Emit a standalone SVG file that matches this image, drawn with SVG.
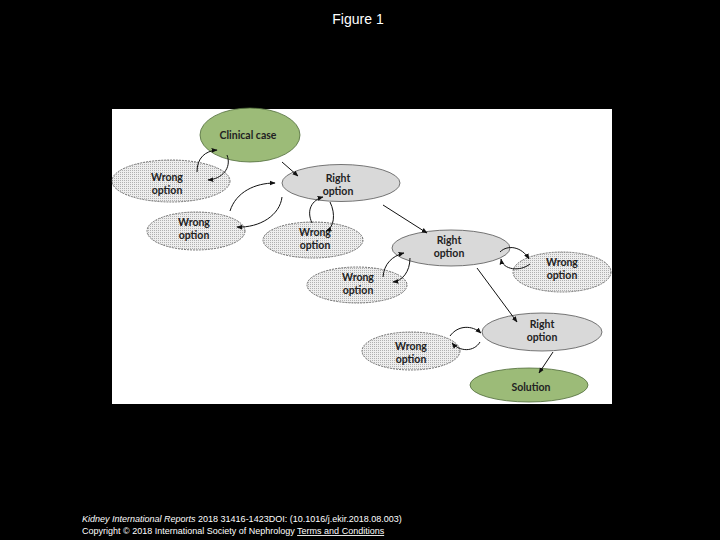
<svg xmlns="http://www.w3.org/2000/svg" width="720" height="540" viewBox="0 0 720 540">
<style>
.t{font-family:Lato,"Open Sans","Liberation Sans",sans-serif;font-size:10.5px;font-weight:bold;fill:#222;text-anchor:middle}
.g{fill:#9cbb78;stroke:#4f6b3a;stroke-width:0.8}
.r{fill:#d9d9d9;stroke:#555;stroke-width:0.8}
.w{fill:url(#dots);stroke:#555;stroke-width:0.8;stroke-dasharray:2 1}
.c{fill:none;stroke:#111;stroke-width:1;marker-end:url(#ah)}
.f{font-family:"Liberation Sans",Arial,sans-serif;font-size:9px;fill:#fff}
</style>
<defs>
<pattern id="dots" width="2" height="2" patternUnits="userSpaceOnUse">
<rect width="2" height="2" fill="#eeeeee"/>
<rect width="1" height="1" fill="#b0b0b0"/>
</pattern>
<marker id="ah" viewBox="0 0 10 10" refX="9" refY="5" markerWidth="6" markerHeight="6" orient="auto-start-reverse" markerUnits="userSpaceOnUse">
<path d="M0,1 L10,5 L0,9 Z" fill="#111"/>
</marker>
</defs>
<rect width="720" height="540" fill="#000"/>
<text x="358" y="24" font-family="Liberation Sans,Arial,sans-serif" font-size="14" fill="#fff" text-anchor="middle">Figure 1</text>
<rect x="112" y="109" width="500" height="295" fill="#fff"/>

<g id="clinical-case"><ellipse class="g" cx="250" cy="135" rx="50" ry="27"/><text class="t" x="248" y="139">Clinical case</text></g>
<g id="wrong-1"><ellipse class="w" cx="171" cy="181" rx="59" ry="21"/><text class="t" x="167" y="181">Wrong</text><text class="t" x="167" y="194">option</text></g>
<g id="right-1"><ellipse class="r" cx="341" cy="183" rx="59" ry="18.5"/><text class="t" x="338" y="182">Right</text><text class="t" x="338" y="195">option</text></g>
<g id="wrong-2"><ellipse class="w" cx="196" cy="231" rx="49" ry="19"/><text class="t" x="194" y="226">Wrong</text><text class="t" x="194" y="239">option</text></g>
<g id="wrong-3"><ellipse class="w" cx="313" cy="240" rx="50" ry="18"/><text class="t" x="315" y="236">Wrong</text><text class="t" x="315" y="249">option</text></g>
<g id="right-2"><ellipse class="r" cx="451" cy="248" rx="59" ry="18"/><text class="t" x="449" y="244" font-weight="600">Right</text><text class="t" x="449" y="257" font-weight="600">option</text></g>
<g id="wrong-4"><ellipse class="w" cx="357" cy="285" rx="50" ry="18"/><text class="t" x="358" y="281">Wrong</text><text class="t" x="358" y="294">option</text></g>
<g id="wrong-5"><ellipse class="w" cx="562" cy="272" rx="49" ry="20"/><text class="t" x="562" y="266">Wrong</text><text class="t" x="562" y="279">option</text></g>
<g id="right-3"><ellipse class="r" cx="542" cy="332" rx="60" ry="19"/><text class="t" x="542" y="328">Right</text><text class="t" x="542" y="341">option</text></g>
<g id="wrong-6"><ellipse class="w" cx="411" cy="351" rx="49" ry="19"/><text class="t" x="411" y="350">Wrong</text><text class="t" x="411" y="363">option</text></g>
<g id="solution"><ellipse class="g" cx="529" cy="385" rx="59" ry="17"/><text class="t" x="531" y="391">Solution</text></g>

<g id="connectors">
<path class="c" d="M282,162 L298,176"/>
<path class="c" d="M197,172 C197,158 205,151 217,150"/>
<path class="c" d="M227,155 C232,168 222,179 208,180"/>
<path class="c" d="M230,211 C236,192 255,183 275,183"/>
<path class="c" d="M282,197 C280,215 260,228 237,227"/>
<path class="c" d="M312,223 C306,210 312,200 323,197"/>
<path class="c" d="M330,202 C336,214 334,228 326,231"/>
<path class="c" d="M383,205 L427,233"/>
<path class="c" d="M383,277 C384,264 392,256 404,253"/>
<path class="c" d="M410,258 C410,272 402,281 393,282"/>
<path class="c" d="M500,252 C508,244 522,247 529,259"/>
<path class="c" d="M530,264 C520,272 503,270 501,259"/>
<path class="c" d="M477,268 L517,322"/>
<path class="c" d="M450,336 C458,325 472,325 481,333"/>
<path class="c" d="M480,342 C474,352 460,352 452,343"/>
<path class="c" d="M553,352 L539,373"/>
</g>

<text class="f" x="82" y="522"><tspan font-style="italic">Kidney International Reports</tspan> 2018 31416-1423DOI: (10.1016/j.ekir.2018.08.003)</text>
<text class="f" x="82" y="534">Copyright © 2018 International Society of Nephrology <tspan text-decoration="underline">Terms and Conditions</tspan></text>
</svg>
